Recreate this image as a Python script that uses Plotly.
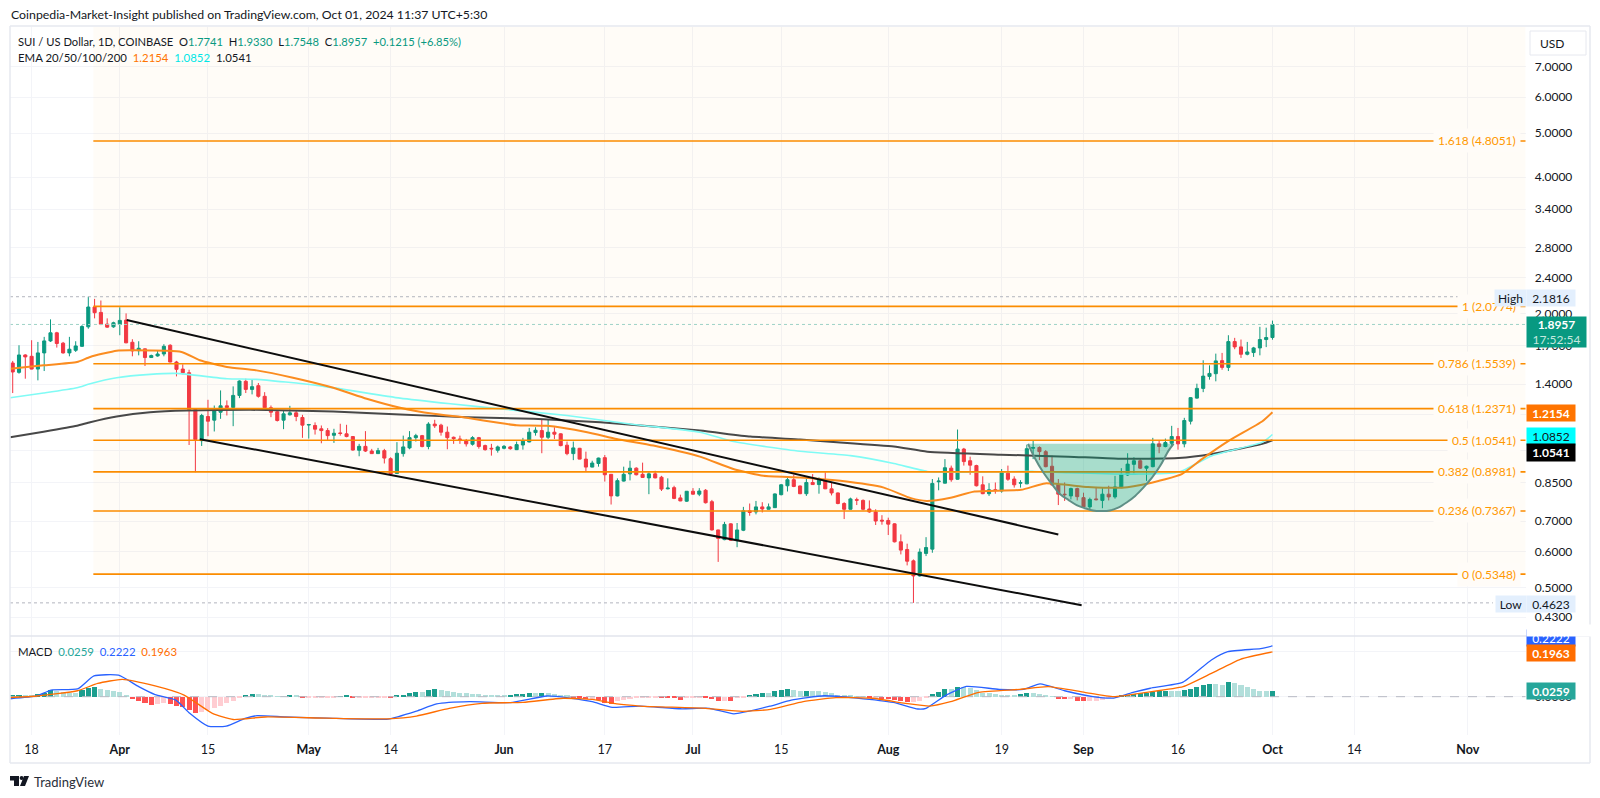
import math
import pandas as pd
import plotly.graph_objects as go

FIRST_DAY = "2024-03-15"

opens = [1.559,1.487,1.624,1.613,1.512,1.641,1.744,1.817,1.724,1.641,
1.663,1.697,1.873,2.071,2.015,1.899,1.873,1.896,1.938,1.732,
1.660,1.675,1.603,1.616,1.632,1.706,1.567,1.512,1.484,1.232,
1.052,1.189,1.167,1.215,1.255,1.245,1.323,1.421,1.364,1.390,
1.317,1.243,1.218,1.167,1.199,1.211,1.183,1.139,1.136,1.117,
1.107,1.081,1.094,1.089,1.074,1.002,1.022,0.998,0.985,1.000,
0.960,0.891,0.985,1.014,1.068,1.079,1.021,1.144,1.138,1.098,
1.070,1.061,1.052,1.033,1.068,1.026,1.012,1.002,1.012,1.019,
1.005,1.029,1.045,1.096,1.107,1.070,1.098,1.089,1.028,0.985,
1.012,0.958,0.920,0.937,0.965,0.887,0.795,0.857,0.889,0.915,
0.887,0.871,0.889,0.874,0.824,0.829,0.787,0.774,0.814,0.802,
0.818,0.772,0.669,0.637,0.690,0.634,0.668,0.737,0.733,0.752,
0.743,0.749,0.800,0.837,0.863,0.836,0.804,0.851,0.842,0.857,
0.824,0.807,0.765,0.743,0.780,0.777,0.744,0.733,0.703,0.702,
0.690,0.630,0.606,0.572,0.530,0.594,0.607,0.854,0.848,0.915,
0.865,1.008,0.950,0.927,0.841,0.804,0.820,0.815,0.892,0.866,
0.848,0.845,1.012,1.016,0.995,0.924,0.842,0.802,0.795,0.825,
0.788,0.752,0.783,0.777,0.802,0.791,0.829,0.884,0.933,0.950,
0.915,0.922,1.035,1.021,1.038,1.074,1.035,1.161,1.305,1.371,
1.457,1.477,1.578,1.525,1.738,1.692,1.630,1.644,1.683,1.756,1.7741]

highs = [1.576,1.706,1.630,1.750,1.735,1.780,1.945,1.826,1.735,1.780,
1.741,1.889,2.182,2.158,2.140,1.955,1.922,2.068,2.005,1.759,
1.741,1.678,1.627,1.663,1.715,1.715,1.576,1.549,1.507,1.236,
1.205,1.294,1.257,1.357,1.290,1.385,1.428,1.440,1.433,1.409,
1.345,1.257,1.226,1.226,1.255,1.226,1.199,1.145,1.154,1.136,
1.121,1.117,1.146,1.140,1.076,1.035,1.104,1.009,1.014,1.009,
0.967,1.044,1.079,1.104,1.089,1.083,1.155,1.169,1.146,1.130,
1.074,1.079,1.061,1.076,1.072,1.031,1.035,1.026,1.029,1.024,
1.047,1.067,1.122,1.126,1.169,1.169,1.126,1.092,1.047,1.047,
1.014,0.995,0.950,0.965,0.978,0.888,0.869,0.922,0.950,0.919,
0.941,0.896,0.903,0.880,0.869,0.837,0.800,0.815,0.827,0.827,
0.823,0.779,0.670,0.697,0.692,0.693,0.752,0.765,0.775,0.770,
0.765,0.805,0.844,0.876,0.885,0.838,0.866,0.888,0.873,0.896,
0.851,0.809,0.770,0.788,0.788,0.781,0.777,0.743,0.721,0.712,
0.692,0.654,0.624,0.576,0.609,0.645,0.866,0.873,0.958,0.927,
1.113,1.014,0.970,0.931,0.878,0.848,0.851,0.911,0.927,0.878,
0.861,1.031,1.052,1.022,1.003,0.975,0.866,0.851,0.829,0.829,
0.808,0.788,0.832,0.827,0.837,0.880,0.915,0.987,0.967,0.963,
0.927,1.067,1.052,1.063,1.134,1.122,1.181,1.312,1.404,1.581,
1.541,1.635,1.641,1.795,1.771,1.756,1.735,1.692,1.873,1.865,1.9330]

lows = [1.339,1.477,1.440,1.510,1.428,1.497,1.735,1.686,1.635,1.613,
1.649,1.692,1.855,1.955,1.889,1.864,1.864,1.795,1.724,1.613,
1.621,1.536,1.600,1.610,1.613,1.565,1.457,1.472,1.029,0.896,
1.024,1.076,1.102,1.175,1.195,1.132,1.305,1.339,1.330,1.308,
1.230,1.185,1.159,1.115,1.195,1.161,1.067,1.063,1.085,1.038,
1.056,1.040,1.079,1.070,1.000,0.972,0.993,0.983,0.983,0.937,
0.884,0.888,0.970,1.007,1.047,1.017,1.007,1.122,1.079,1.007,
1.035,1.035,1.021,1.026,1.010,1.000,0.975,0.990,1.007,1.005,
1.003,1.005,1.043,1.079,0.987,1.061,1.061,1.022,0.977,0.953,
0.957,0.900,0.919,0.922,0.855,0.761,0.793,0.855,0.860,0.882,
0.871,0.802,0.869,0.815,0.822,0.782,0.774,0.771,0.800,0.794,
0.765,0.667,0.569,0.635,0.633,0.613,0.665,0.719,0.724,0.731,
0.742,0.748,0.797,0.813,0.831,0.802,0.795,0.841,0.804,0.823,
0.797,0.762,0.707,0.742,0.759,0.739,0.730,0.686,0.687,0.652,
0.628,0.591,0.559,0.4623,0.528,0.586,0.596,0.818,0.847,0.854,
0.863,0.927,0.885,0.834,0.802,0.795,0.804,0.808,0.858,0.829,
0.829,0.844,0.958,0.953,0.919,0.837,0.759,0.775,0.781,0.777,
0.749,0.739,0.777,0.747,0.777,0.784,0.827,0.880,0.891,0.911,
0.858,0.919,0.987,1.017,1.026,1.005,1.017,1.142,1.301,1.345,
1.433,1.421,1.507,1.497,1.672,1.600,1.621,1.608,1.621,1.690,1.7548]

closes = [1.490,1.624,1.608,1.512,1.641,1.744,1.817,1.721,1.641,1.672,
1.700,1.876,2.071,2.012,1.899,1.870,1.912,1.935,1.727,1.658,
1.680,1.603,1.619,1.632,1.697,1.567,1.510,1.484,1.232,1.058,
1.195,1.161,1.222,1.255,1.245,1.323,1.423,1.364,1.383,1.317,
1.243,1.215,1.165,1.205,1.211,1.189,1.138,1.141,1.115,1.107,
1.079,1.092,1.091,1.074,1.003,1.022,0.998,0.985,1.000,0.963,
0.888,0.987,1.019,1.068,1.079,1.021,1.144,1.134,1.098,1.068,
1.063,1.058,1.035,1.068,1.021,1.005,1.009,1.019,1.022,1.010,
1.031,1.049,1.098,1.109,1.070,1.098,1.087,1.026,0.985,1.014,
0.958,0.920,0.939,0.963,0.885,0.795,0.859,0.887,0.915,0.885,
0.873,0.889,0.871,0.823,0.827,0.785,0.775,0.814,0.802,0.815,
0.768,0.669,0.641,0.688,0.635,0.669,0.737,0.731,0.752,0.744,
0.752,0.803,0.841,0.863,0.834,0.804,0.851,0.842,0.861,0.824,
0.807,0.765,0.743,0.783,0.778,0.743,0.733,0.700,0.700,0.689,
0.630,0.604,0.571,0.530,0.598,0.612,0.847,0.857,0.917,0.863,
1.008,0.946,0.929,0.837,0.804,0.820,0.818,0.894,0.865,0.841,
0.850,1.010,1.016,0.995,0.922,0.841,0.802,0.800,0.825,0.792,
0.752,0.781,0.780,0.802,0.791,0.832,0.887,0.934,0.950,0.915,
0.924,1.035,1.021,1.042,1.074,1.035,1.165,1.308,1.371,1.459,
1.479,1.576,1.525,1.738,1.692,1.630,1.649,1.683,1.756,1.7741,1.8957]

# Moving averages, read at (bar number, price)
ema20_bar = [0.6,5.9,11.2,13.3,17.5,20.2,27.8,30.7,35,39.7,45.5,51.9,57.2,62.5,67.8,73.1,78.4,81,85.8,92.2,96.9,102.7,110.1,115.4,120.2,126,132.4,139.3,143.6,146.1,149.9,153.7,161.1,164.9,171.7,177.1,181.3,186.6,189.8,194.1,199.4,201]
ema20_val = [1.515,1.541,1.567,1.608,1.660,1.663,1.649,1.581,1.528,1.502,1.447,1.375,1.301,1.243,1.205,1.181,1.150,1.138,1.134,1.098,1.061,1.026,0.970,0.911,0.880,0.873,0.858,0.829,0.786,0.775,0.788,0.813,0.820,0.847,0.832,0.829,0.847,0.888,0.958,1.052,1.161,1.2154]
ema50_bar = [0.6,5.9,11.2,13.3,17.5,22.8,27,35,39.7,49.3,62.5,70.5,78.4,89,99.6,110.1,115.4,126,134,140.9,146.2,152.6,163.2,168.6,179.2,186.1,191.4,199.4,201]
ema50_val = [1.308,1.339,1.375,1.404,1.447,1.472,1.479,1.440,1.435,1.392,1.305,1.268,1.236,1.195,1.142,1.098,1.047,0.997,0.975,0.937,0.900,0.897,0.900,0.894,0.888,0.896,0.975,1.044,1.0852]
ema200_bar = [0.6,5.9,11.2,13.3,17.5,22.8,28.6,38.7,51.9,62.5,73.1,83.7,94.3,110.1,118.1,126,131.3,140.9,146.2,157.9,168.6,176.5,186.1,191.4,199.4,201]
ema200_val = [1.070,1.100,1.134,1.155,1.189,1.215,1.226,1.230,1.220,1.201,1.185,1.175,1.155,1.107,1.074,1.058,1.045,1.021,0.995,0.980,0.970,0.960,0.963,0.983,1.035,1.0541]

fib_ratio = ["0","0.236","0.382","0.5","0.618","0.786","1","1.618"]
fib_price = [0.5348,0.7367,0.8981,1.0541,1.2371,1.5539,2.0774,4.8051]
fib_start_bar = 13.8
fib_end_bar = 241.2

channel_top_bar = [19.1,167.0]
channel_top_val = [1.939,0.654]
channel_low_bar = [30.7,170.7]
channel_low_val = [1.060,0.457]

cup_bar = [162.2,163.2,164.6,165.9,167.2,168.6,169.9,171.2,172.5,173.9,175.2,176.5,177.9,179.2,180.5,181.9,183.2,184.5,185.3]
cup_val = [1.035,0.967,0.896,0.847,0.804,0.779,0.759,0.747,0.738,0.736,0.738,0.749,0.770,0.795,0.829,0.873,0.927,1.000,1.035]

macd_hist = [.004,.007,.007,.003,.010,.018,.029,.026,.019,.015,
.015,.029,.037,.044,.034,.029,.023,.019,.004,-.012,
-.018,-.029,-.037,-.032,-.026,-.032,-.039,-.044,-.058,-.070,
-.067,-.058,-.051,-.041,-.029,-.019,-.007,.004,.012,.012,
.006,.003,.0015,.0015,.004,.004,-.0015,-.0015,-.0015,-.0015,
-.0015,-.0015,.0015,.003,-.0015,-.0015,-.0015,-.0015,-.0015,-.0015,
-.004,.004,.009,.016,.020,.019,.029,.034,.029,.025,
.020,.018,.015,.013,.010,.009,.007,.006,.004,.009,
.010,.013,.016,.015,.018,.018,.012,.007,.003,-.003,
-.007,-.012,-.012,-.015,-.026,-.032,-.020,-.015,-.012,-.007,
-.004,-.003,-.003,-.004,-.006,-.007,-.015,-.003,-.003,-.0015,
-.003,-.012,-.018,-.018,-.019,-.007,-.003,.007,.010,.015,
.015,.023,.029,.034,.029,.023,.026,.026,.026,.020,
.015,.007,.004,.003,.0015,.0008,-.007,-.007,-.010,-.012,
-.015,-.018,-.022,-.022,-.018,-.004,.012,.022,.032,.032,
.044,.044,.039,.029,.018,.015,.012,.009,.007,.006,
.012,.018,.018,.012,.004,.0015,-.009,-.012,-.012,-.018,
-.020,-.020,-.018,-.013,-.007,.0015,.006,.007,.012,.015,
.018,.020,.025,.026,.026,.023,.029,.035,.044,.053,
.056,.056,.053,.064,.058,.050,.041,.032,.026,.025,.0259]

macd_bar = [0.6,4.8,7.1,11.3,13.9,17.8,21,23.6,26.9,29.1,32,34.9,37.9,39.8,44.3,50.8,60.6,65.1,68.3,73.5,80,85.8,89.7,93,96.2,100.6,107.1,111.6,115.5,121.3,124.6,129.8,135,140.8,144.7,146,149.2,152.4,157.6,161.5,164.1,168,172.5,175.8,179,181.6,186.8,191.3,193.9,199.1,201]
macd_val = [-.009,.003,.029,.034,.091,.094,.044,.009,-.015,-.073,-.129,-.129,-.095,-.083,-.089,-.094,-.098,-.063,-.032,-.022,-.026,.003,-.007,-.022,-.047,-.041,-.053,-.051,-.075,-.041,-.015,.004,-.006,-.025,-.054,-.051,.007,.045,.032,.032,.056,.026,0,-.006,.020,.037,.064,.161,.197,.211,.2222]
signal_bar = [0.6,4.8,11.3,14.5,18.4,23.6,28.2,32.7,36,41.1,50.8,60.6,65.1,70.3,75.5,82,88.4,93,96.9,100.6,111,116.8,121.3,126.5,131.7,137.5,142.7,146.6,149.9,154.4,160.9,165.4,171.2,175.8,181,186.8,191.3,195.9,201]
signal_val = [-.004,.003,.026,.058,.076,.047,.007,-.073,-.100,-.089,-.094,-.097,-.085,-.051,-.029,-.025,-.007,-.012,-.032,-.041,-.051,-.064,-.056,-.022,-.004,-.007,-.029,-.041,-.022,.019,.032,.044,.019,0,.019,.044,.102,.164,.1963]

price_ticks = [7.0,6.0,5.0,4.0,3.4,2.8,2.4,2.0,1.7,1.4,1.2,1.0,0.85,0.7,0.6,0.5,0.43]
macd_ticks = [0.0,0.2]
time_ticks = ["2024-03-18","2024-04-01","2024-04-15","2024-05-01","2024-05-14","2024-06-01","2024-06-17","2024-07-01","2024-07-15","2024-08-01","2024-08-19","2024-09-01","2024-09-16","2024-10-01","2024-10-14","2024-11-01"]
time_labels = ["18","<b>Apr</b>","15","<b>May</b>","14","<b>Jun</b>","17","<b>Jul</b>","15","<b>Aug</b>","19","<b>Sep</b>","16","<b>Oct</b>","14","<b>Nov</b>"]

HIGH_PRICE, LOW_PRICE, LAST_PRICE = 2.1816, 0.4623, 1.8957

W, H = 1600, 798
FONT = "Lato"
INK = "#131722"
GRID = "#f3f4f8"
FRAME = "#e6e8ef"
UP, DOWN = "#089981", "#F23645"
FIB = "#ff9800"
TINT = "rgba(255,152,0,0.03)"

base = pd.Timestamp(FIRST_DAY)
def when(bars):
    return [base + pd.Timedelta(days=float(b) - 1) for b in bars]
bars = list(range(1, len(opens) + 1))

def px(x): return x / W
def py(y): return 1 - y / H

fig = go.Figure()

# tint behind the Fibonacci levels
fig.add_trace(go.Scatter(x=when([fib_start_bar, fib_end_bar, fib_end_bar, fib_start_bar]),
                         y=[fib_price[0], fib_price[0], 8.56, 8.56], mode="lines", fill="toself",
                         fillcolor=TINT, line=dict(width=0), xaxis="x", yaxis="y"))

# dotted extreme / last lines
for val, color, end in [(HIGH_PRICE, "#b2b5be", 236), (LOW_PRICE, "#b2b5be", 236), (LAST_PRICE, "#9ed2c6", fib_end_bar)]:
    fig.add_trace(go.Scatter(x=when([0.57, end]), y=[val, val], mode="lines",
                             line=dict(color=color, width=1, dash="dot"), xaxis="x", yaxis="y"))

for b, v, color, width in [(ema200_bar, ema200_val, "#484848", 2),
                           (ema50_bar, ema50_val, "#80fbf5", 1.6),
                           (ema20_bar, ema20_val, "#fb8c1f", 2)]:
    fig.add_trace(go.Scatter(x=when(b), y=v, mode="lines", line=dict(color=color, width=width, shape="spline", smoothing=0.5),
                             xaxis="x", yaxis="y"))

fig.add_trace(go.Candlestick(x=when(bars), open=opens, high=highs, low=lows, close=closes,
                             increasing=dict(line=dict(color=UP, width=1), fillcolor=UP),
                             decreasing=dict(line=dict(color=DOWN, width=1), fillcolor=DOWN),
                             whiskerwidth=0, xaxis="x", yaxis="y"))

for val in fib_price:
    fig.add_trace(go.Scatter(x=when([fib_start_bar, fib_end_bar]), y=[val, val], mode="lines",
                             line=dict(color="#fb8c00", width=1.6), xaxis="x", yaxis="y"))

for b, v in [(channel_top_bar, channel_top_val), (channel_low_bar, channel_low_val)]:
    fig.add_trace(go.Scatter(x=when(b), y=v, mode="lines", line=dict(color="#0d0d0d", width=2), xaxis="x", yaxis="y"))

fig.add_trace(go.Scatter(x=when(cup_bar), y=cup_val, mode="lines", fill="toself", fillcolor="rgba(0,160,120,0.34)",
                         line=dict(color="#5f8f86", width=2, shape="spline"), xaxis="x", yaxis="y"))

# MACD pane
hist_colors = []
for k, h in enumerate(macd_hist):
    prev = macd_hist[k - 1] if k else 0
    if h >= 0:
        hist_colors.append("#1b9e8e" if h > prev else "#b2dfdb")
    else:
        hist_colors.append("#ff5252" if h < prev else "#ffcdd2")
fig.add_trace(go.Bar(x=when(bars), y=macd_hist, marker=dict(color=hist_colors, line=dict(width=0)),
                     width=0.8 * 86400000, xaxis="x2", yaxis="y2"))
fig.add_trace(go.Scatter(x=when([0.57, fib_end_bar]), y=[0, 0], mode="lines",
                         line=dict(color="#b8bbc4", width=1, dash="dash"), xaxis="x2", yaxis="y2"))
fig.add_trace(go.Scatter(x=when(macd_bar), y=macd_val, mode="lines",
                         line=dict(color="#2962ff", width=1.3, shape="spline", smoothing=0.5), xaxis="x2", yaxis="y2"))
fig.add_trace(go.Scatter(x=when(signal_bar), y=signal_val, mode="lines",
                         line=dict(color="#ff6d00", width=1.3, shape="spline", smoothing=0.5), xaxis="x2", yaxis="y2"))

xrange_ = [base + pd.Timedelta(days=0.57 - 1), base + pd.Timedelta(days=241.2 - 1)]
common_x = dict(type="date", range=xrange_, tickmode="array", tickvals=time_ticks, ticktext=time_labels,
                showgrid=True, gridcolor=GRID, gridwidth=1, zeroline=False, showline=False, ticks="",
                domain=[px(10), px(1525.7)], rangeslider=dict(visible=False))

annotations = []
def label(x, y, w, h, text, bg, color, size=12):
    annotations.append(dict(xref="paper", yref="paper", x=px(x), y=py(y), xanchor="left", yanchor="middle",
                            width=w, height=h, align="center", valign="middle", showarrow=False,
                            text=text, bgcolor=bg, borderpad=0, font=dict(family=FONT, size=size, color=color)))
def note(x, y, text, size=12, color=INK):
    annotations.append(dict(xref="paper", yref="paper", x=px(x), y=py(y), xanchor="left", yanchor="middle",
                            showarrow=False, text=text, borderpad=0, font=dict(family=FONT, size=size, color=color)))

for ratio, val in zip(fib_ratio, fib_price):
    annotations.append(dict(xref="paper", yref="y", x=px(1521), y=math.log10(val), xanchor="right", yanchor="middle",
                            showarrow=False, text=f"{ratio} ({val:.4f})", bgcolor="#fffcf8", borderpad=4,
                            font=dict(family=FONT, size=12, color=FIB)))

label(1494, 298, 31, 16, "High", "#e3effd", INK)
label(1526, 298, 48, 16, "2.1816", "#e3effd", INK)
label(1495, 604, 30, 16, "Low", "#e3effd", INK)
label(1526, 604, 48, 16, "0.4623", "#e3effd", INK)
label(1526, 332, 59, 30, "<b>1.8957</b><br><span style='color:#c4e8df'>17:52:54</span>", "#089981", "#ffffff")
label(1526, 413, 48, 16, "<b>1.2154</b>", "#ff7400", "#ffffff")
label(1526, 436, 48, 17, "1.0852", "#00ffff", INK)
label(1526, 452.5, 48, 17, "<b>1.0541</b>", "#000000", "#ffffff")
label(1526, 638, 48, 16, "0.2222", "#2962ff", "#ffffff")
label(1526, 630, 64, 11, " ", "#ffffff", "#ffffff")
label(1526, 653, 48, 16, "<b>0.1963</b>", "#ff6d00", "#ffffff")
label(1526, 690.5, 48, 16, "<b>0.0259</b>", "#26a69a", "#ffffff")
note(1539, 43, "USD")

note(10, 14.5, "Coinpedia-Market-Insight published on TradingView.com, Oct 01, 2024 11:37 UTC+5:30", 12.3)
G = "#089981"
note(17, 41.3, f"SUI / US Dollar, 1D, COINBASE  O<span style='color:{G}'>1.7741</span>  H<span style='color:{G}'>1.9330</span>  "
               f"L<span style='color:{G}'>1.7548</span>  C<span style='color:{G}'>1.8957</span>  <span style='color:{G}'>+0.1215 (+6.85%)</span>", 11.2)
note(17, 57.7, "EMA 20/50/100/200  <span style='color:#ff7400'>1.2154</span>  <span style='color:#00e6e6'>1.0852</span>  <span style='color:#131722'>1.0541</span>", 11.4)
note(17, 651.7, "MACD  <span style='color:#26a69a'>0.0259</span>  <span style='color:#2962ff'>0.2222</span>  <span style='color:#ff6d00'>0.1963</span>", 11.4)
note(33, 781.5, "TradingView", 13, "#2a2e39")

def line(x0, y0, x1, y1, color=FRAME, width=1.5):
    return dict(type="line", xref="paper", yref="paper", x0=px(x0), y0=py(y0), x1=px(x1), y1=py(y1),
                line=dict(color=color, width=width))

shapes = [line(10, 26, 1590, 26), line(10, 26, 10, 763), line(1590, 26, 1590, 763), line(10, 763, 1590, 763),
          line(10, 636, 1590, 636, "#e2e4ec"),
          dict(type="rect", xref="paper", yref="paper", x0=px(1530), x1=px(1586), y0=py(31), y1=py(55),
               line=dict(color="#e6e8ef", width=1), fillcolor="rgba(0,0,0,0)"),
          dict(type="path", xref="paper", yref="paper", fillcolor="#131722", line=dict(width=0),
               path=f"M {px(10)} {py(776)} L {px(19)} {py(776)} L {px(19)} {py(786)} L {px(14)} {py(786)} L {px(14)} {py(780.5)} L {px(10)} {py(780.5)} Z"),
          dict(type="circle", xref="paper", yref="paper", fillcolor="#131722", line=dict(width=0),
               x0=px(19.6), x1=px(23.6), y0=py(776), y1=py(780)),
          dict(type="path", xref="paper", yref="paper", fillcolor="#131722", line=dict(width=0),
               path=f"M {px(24)} {py(776)} L {px(29)} {py(776)} L {px(25)} {py(786)} L {px(20)} {py(786)} Z")]

fig.update_layout(
    width=W, height=H, margin=dict(l=0, r=0, t=0, b=0), paper_bgcolor="#ffffff", plot_bgcolor="#ffffff",
    showlegend=False, font=dict(family=FONT, size=12, color=INK), hovermode=False, bargap=0,
    xaxis=dict(anchor="y", showticklabels=False, **common_x),
    xaxis2=dict(anchor="y2", matches="x", showticklabels=True, ticklabelstandoff=5,
                tickfont=dict(family=FONT, size=12.5, color=INK), **common_x),
    yaxis=dict(type="log", domain=[py(636), py(27)], range=[-0.408, 0.9325], side="right", anchor="x",
               tickmode="array", tickvals=price_ticks, ticktext=[f"{t:.4f}" for t in price_ticks],
               showgrid=True, gridcolor=GRID, zeroline=False, showline=False, ticks="", ticklabelstandoff=8,
               tickfont=dict(family=FONT, size=12, color=INK)),
    yaxis2=dict(domain=[py(735), py(636)], range=[-0.168, 0.266], side="right", anchor="x2",
                tickmode="array", tickvals=macd_ticks, ticktext=[f"{t:.4f}" for t in macd_ticks],
                showgrid=True, gridcolor=GRID, zeroline=False, showline=False, ticks="", ticklabelstandoff=8,
                tickfont=dict(family=FONT, size=12, color=INK)),
    annotations=annotations, shapes=shapes,
)

fig.write_html("out.html", config=dict(displayModeBar=False),
               post_script="document.body.style.margin='0';")
